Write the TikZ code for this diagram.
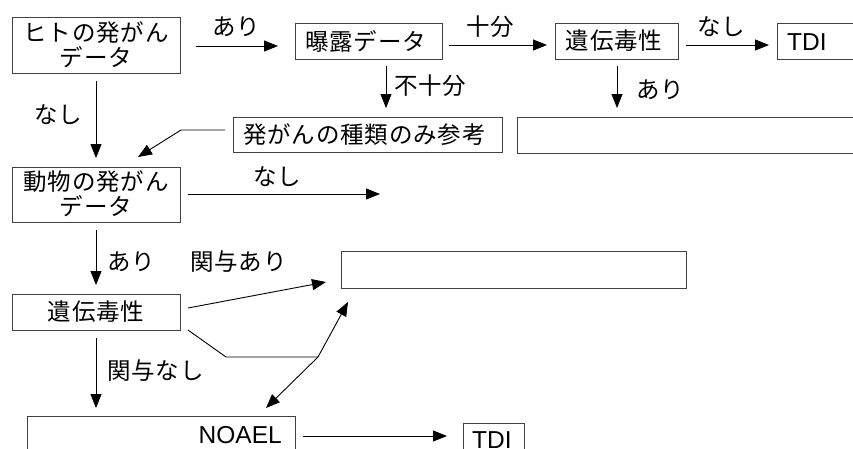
\documentclass[tikz,border=0pt]{standalone}
\usepackage{fontspec}
\setmainfont{Liberation Sans}
\newfontfamily\jp[LetterSpace=3.5]{Noto Sans CJK JP}
\usetikzlibrary{arrows.meta}
\begin{document}
\begin{tikzpicture}[x=1pt,y=-1pt,
  boxline/.style={draw=black!75,line width=0.9pt},
  jt/.style={font=\jp\fontsize{23.5}{25}\selectfont,inner sep=0pt,align=center},
  lt/.style={font=\fontsize{24.5}{25}\selectfont,inner sep=0pt},
  arr/.style={draw=black,line width=0.9pt,-{Triangle[length=14pt,width=11pt]}},
  ln/.style={draw=black,line width=0.9pt}]
\useasboundingbox (0,0) rectangle (853,448);
\clip (0,0) rectangle (853,448);
% boxes
\draw[boxline] (12,17) rectangle (180,73);
\node[jt] (h1) at (96,45) {ヒトの発がん\\データ};
\draw[boxline] (295,23) rectangle (442,59);
\node[jt,anchor=west] (exp) at (305,41) {曝露データ};
\draw[boxline] (555,23) rectangle (678,59);
\node[jt] (g1) at (614,41) {遺伝毒性};
\draw[boxline] (777,23) rectangle (900,59);
\node[lt,anchor=west] (t1) at (787,42) {TDI};
\draw[boxline] (233,117) rectangle (502,152);
\node[jt,anchor=west] (kind) at (243,134.5) {発がんの種類のみ参考};
\draw[boxline] (517,117) rectangle (900,153);
\draw[boxline] (12,167) rectangle (180,222);
\node[jt] (an) at (96,194) {動物の発がん\\データ};
\draw[boxline] (341,251) rectangle (686,288);
\draw[boxline] (12,294) rectangle (180,330);
\node[jt] (g2) at (96,312) {遺伝毒性};
\draw[boxline] (27,416) rectangle (295,480);
\node[lt,anchor=east] (no) at (282,435) {NOAEL};
\draw[boxline] (463,423) rectangle (524,480);
\node[lt,anchor=west] (t2) at (472,440) {TDI};
% coordinates
\coordinate (a1s) at (196,46); \coordinate (a1e) at (278,46);
\coordinate (a2s) at (449,45); \coordinate (a2e) at (547,45);
\coordinate (a3s) at (686,45); \coordinate (a3e) at (769,45);
\coordinate (a4s) at (386,66); \coordinate (a4e) at (386,108);
\coordinate (a5s) at (617,66); \coordinate (a5e) at (617,108);
\coordinate (a6s) at (225,130); \coordinate (a6m) at (181,130); \coordinate (a6e) at (138,157);
\coordinate (a7s) at (96,81); \coordinate (a7e) at (96,158);
\coordinate (a8s) at (188,194); \coordinate (a8e) at (380,194);
\coordinate (a9s) at (96,230); \coordinate (a9e) at (96,285);
\coordinate (a10s) at (188,308); \coordinate (a10e) at (326,282);
\coordinate (a11s) at (188,330); \coordinate (a11m) at (226,357); \coordinate (a11k) at (318,357);
\coordinate (a11u) at (348,302); \coordinate (a11d) at (266,408);
\coordinate (a12s) at (96,338); \coordinate (a12e) at (96,408);
\coordinate (a13s) at (303,436); \coordinate (a13e) at (447,436);
% arrows
\draw[arr] (a1s) -- (a1e);
\draw[arr] (a2s) -- (a2e);
\draw[arr] (a3s) -- (a3e);
\draw[arr] (a4s) -- (a4e);
\draw[arr] (a5s) -- (a5e);
\draw[arr] (a6s) -- (a6m) -- (a6e);
\draw[arr] (a7s) -- (a7e);
\draw[arr] (a8s) -- (a8e);
\draw[arr] (a9s) -- (a9e);
\draw[arr] (a10s) -- (a10e);
\draw[ln] (a11s) -- (a11m) -- (a11k);
\draw[arr] (a11k) -- (a11u);
\draw[arr] (a11k) -- (a11d);
\draw[arr] (a12s) -- (a12e);
\draw[arr] (a13s) -- (a13e);
% labels
\node[jt] (l1) at (236,27) {あり};
\node[jt] (l2) at (490,27) {十分};
\node[jt] (l3) at (721,27) {なし};
\node[jt,anchor=west] (l4) at (394,86) {不十分};
\node[jt,anchor=west] (l5) at (636,90) {あり};
\node[jt] (l6) at (58,115) {なし};
\node[jt] (l7) at (277,177) {なし};
\node[jt,anchor=west] (l8) at (107,262) {あり};
\node[jt,anchor=west] (l9) at (190,262) {関与あり};
\node[jt,anchor=west] (l10) at (107,371) {関与なし};
\end{tikzpicture}
\end{document}
